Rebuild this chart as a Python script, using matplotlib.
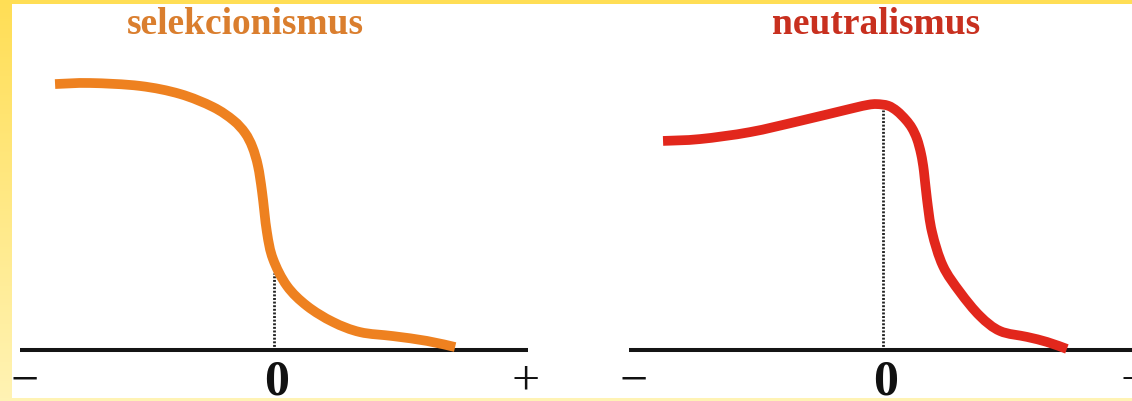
"""
Selekcionismus vs. neutralismus - two sketched fitness curves
"""

import numpy as np
import matplotlib as mpl
mpl.use('Agg')
import matplotlib.pyplot as plt
from matplotlib.patches import Rectangle, PathPatch
from matplotlib.path import Path

# curve data, x: -1 .. +1 along the axis, y: 0 = axis, 1 = top of the left curve
sel_x = [-0.862, -0.724, -0.528, -0.370, -0.240, -0.160, -0.114, -0.085, -0.063, -0.047,
         -0.028, -0.004, 0.051, 0.130, 0.232, 0.339, 0.469, 0.602, 0.713]
sel_y = [0.996, 1.000, 0.989, 0.959, 0.910, 0.860, 0.813, 0.760, 0.689, 0.592,
         0.442, 0.341, 0.240, 0.165, 0.105, 0.067, 0.052, 0.034, 0.011]

neu_x = [-0.866, -0.720, -0.524, -0.327, -0.130, -0.060, -0.024, 0.020, 0.055, 0.090,
         0.114, 0.134, 0.150, 0.161, 0.173, 0.193, 0.236, 0.303, 0.382, 0.461, 0.567,
         0.646, 0.724]
neu_y = [0.783, 0.790, 0.816, 0.858, 0.903, 0.918, 0.921, 0.915, 0.895, 0.862,
         0.831, 0.790, 0.734, 0.670, 0.566, 0.442, 0.315, 0.217, 0.127, 0.071, 0.049,
         0.030, 0.004]

# dotted marker at zero, up to the curve
sel_zero_top = 0.29
neu_zero_top = 0.90

axis_span = [-1.0, 1.0]
tick_pos = [-0.98, 0.012, 0.99]
tick_labels = ['\u2212', '0', '+']

titles = ['selekcionismus', 'neutralismus']
title_x = [-0.114, -0.028]
title_colors = ['#DA7E2E', '#C8301F']
curve_colors = ['#EE8120', '#E2271C']

# layout in pixels
W, H = 1132, 402
zero_px = [274, 883]
axis_px = 351
ux, uy = 254.0, 267.0
xlim = (-1.05, 1.05)
ylim = (-0.2, 1.35)


def smooth_path(xs, ys):
    # catmull-rom through the read points, drawn as cubic beziers
    pts = np.column_stack([xs, ys])
    verts = [pts[0]]
    codes = [Path.MOVETO]
    n = len(pts)
    for i in range(n - 1):
        p0 = pts[i - 1] if i > 0 else pts[i]
        p1 = pts[i]
        p2 = pts[i + 1]
        p3 = pts[i + 2] if i + 2 < n else pts[i + 1]
        verts += [p1 + (p2 - p0) / 6.0, p2 - (p3 - p1) / 6.0, p2]
        codes += [Path.CURVE4] * 3
    return Path(verts, codes)


fig = plt.figure(figsize=(W / 100, H / 100), dpi=100)
fig.patch.set_facecolor('#FFE466')

# yellow frame with a soft vertical gradient, white paper on top
bg = fig.add_axes([0, 0, 1, 1], zorder=-1)
grad = np.linspace(0, 1, 256).reshape(-1, 1)
cmap = mpl.colors.LinearSegmentedColormap.from_list('frame', ['#FFDE55', '#FFF3B4'])
bg.imshow(grad, cmap=cmap, aspect='auto', extent=[0, W, H, 0])
bg.add_patch(Rectangle((12, 5), W - 12, 394, facecolor='white', edgecolor='none'))
bg.set_xlim(0, W)
bg.set_ylim(H, 0)
bg.axis('off')

serif = ['Liberation Serif', 'DejaVu Serif']

panels = [(sel_x, sel_y, sel_zero_top), (neu_x, neu_y, neu_zero_top)]
for i, (xs, ys, ztop) in enumerate(panels):
    left = zero_px[i] + xlim[0] * ux
    top = axis_px - ylim[1] * uy
    bottom = axis_px - ylim[0] * uy
    ax = fig.add_axes([left / W, (H - bottom) / H,
                       (xlim[1] - xlim[0]) * ux / W, (bottom - top) / H], zorder=1)
    ax.set_xlim(*xlim)
    ax.set_ylim(*ylim)
    ax.patch.set_alpha(0)
    ax.axis('off')

    ax.plot(axis_span, [0, 0], color='#151515', lw=2.9, solid_capstyle='butt', zorder=2)
    ax.plot([0, 0], [0, ztop], color='#222222', lw=2.0, linestyle=(0, (0.7, 0.6)), zorder=1)
    ax.add_patch(PathPatch(smooth_path(xs, ys), fill=False, edgecolor=curve_colors[i],
                           lw=7, capstyle='butt', joinstyle='round', zorder=3))

    for pos, lab in zip(tick_pos, tick_labels):
        ax.text(pos, -0.118, lab, ha='center', va='center', fontsize=36,
                family=serif, weight='bold' if lab == '0' else 'normal', color='#111111')

    ax.text(title_x[i], 1.187, titles[i], ha='center', va='baseline', fontsize=27,
            family=serif, weight='bold', color=title_colors[i])

# light strip along the bottom edge, over the cut-off labels
fig.add_artist(Rectangle((0, 0), 1, 3.5 / H, transform=fig.transFigure,
                         facecolor='#FFF3B4', edgecolor='none', zorder=5))

plt.savefig('out.png', dpi=100)
